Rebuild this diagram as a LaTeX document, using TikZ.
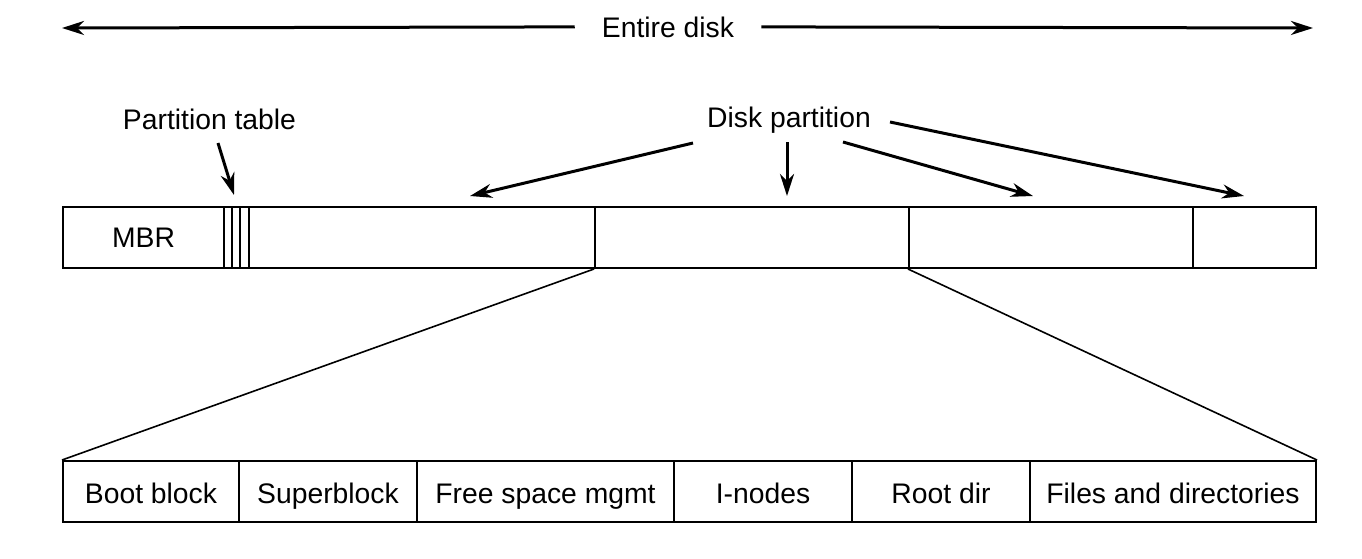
\documentclass[tikz,border=0pt]{standalone}
\usepackage{fontspec}
\setmainfont{Liberation Sans}
\usetikzlibrary{arrows.meta}
\begin{document}
\begin{tikzpicture}[x=1pt,y=-1pt,
  lbl/.style={font=\fontsize{28.3}{32}\selectfont, inner sep=0pt, anchor=base},
  cell/.style={draw, line width=2pt, inner sep=0pt, minimum height=61pt, anchor=north west, font=\fontsize{28.3}{32}\selectfont, text depth=0pt, text height=24pt},
  arr/.style={line width=3pt, -{Stealth[length=22pt, width=14pt, inset=7pt]}},
  thin/.style={line width=1.6pt}]
\useasboundingbox (0,0) rectangle (1362,558);
% top arrow
\node[lbl, inner xsep=27pt] (entire) at (668,37) {Entire disk};
\coordinate (eL) at (62,28);
\coordinate (eR) at (1313,28);
\draw[arr] (entire.west) -- (eL);
\draw[arr] (entire.east) -- (eR);
% top box
\node[cell, text height=19pt, minimum width=161pt] (mbr) at (62,206) {MBR};
\node[cell, minimum width=8pt] (pt1) at (223,206) {};
\node[cell, minimum width=8pt] (pt2) at (231,206) {};
\node[cell, minimum width=9pt] (pt3) at (239,206) {};
\node[cell, minimum width=346pt] (p1) at (248,206) {};
\node[cell, minimum width=314pt] (p2) at (594,206) {};
\node[cell, minimum width=284pt] (p3) at (908,206) {};
\node[cell, minimum width=123pt] (p4) at (1192,206) {};
% labels
\node[lbl] (ptl) at (209.5,129) {Partition table};
\node[lbl] (dpl) at (789,127) {Disk partition};
\coordinate (ptS) at (218,143);
\coordinate (ptE) at (234,195);
\draw[arr] (ptS) -- (ptE);
\coordinate (d1S) at (693,143);
\coordinate (d1E) at (470,196);
\coordinate (d2S) at (787,142);
\coordinate (d2E) at (787,196);
\coordinate (d3S) at (843,142);
\coordinate (d3E) at (1033,196);
\coordinate (d4S) at (890,122);
\coordinate (d4E) at (1244,196);
\draw[arr] (d1S) -- (d1E);
\draw[arr] (d2S) -- (d2E);
\draw[arr] (d3S) -- (d3E);
\draw[arr] (d4S) -- (d4E);
% bottom box
\node[cell, minimum width=176pt] (boot) at (62,460) {Boot block};
\node[cell, minimum width=178pt] (super) at (238,460) {Superblock};
\node[cell, minimum width=257pt] (free) at (416,460) {Free space mgmt};
\node[cell, minimum width=178pt] (inodes) at (673,460) {I-nodes};
\node[cell, minimum width=178pt] (root) at (851,460) {Root dir};
\node[cell, minimum width=286pt] (files) at (1029,460) {Files and directories};
% expansion lines
\draw[thin] (p2.south west) -- (boot.north west);
\draw[thin] (p3.south west) -- (files.north east);
\end{tikzpicture}
\end{document}
